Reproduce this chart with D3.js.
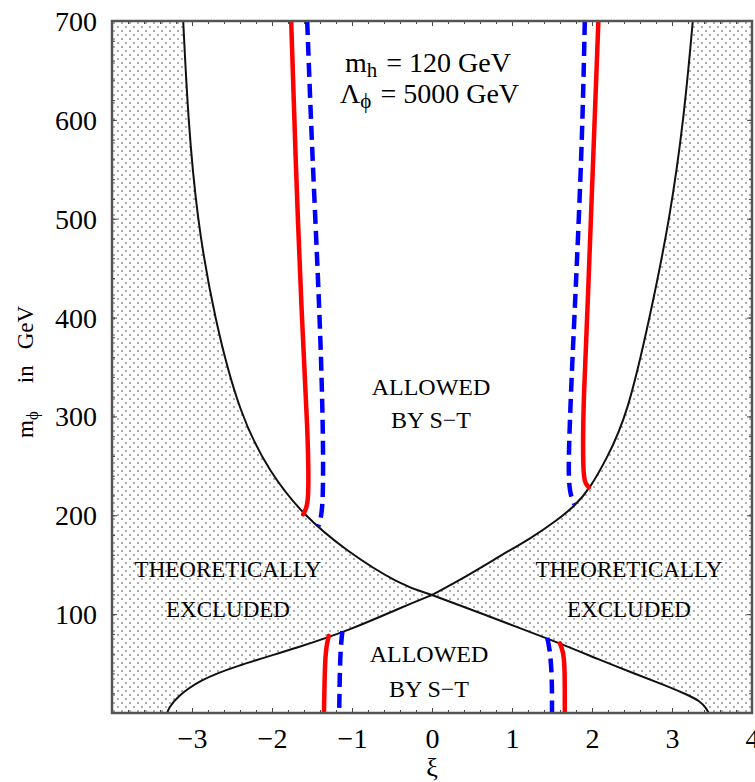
<!DOCTYPE html>
<html><head><meta charset="utf-8">
<script src="https://cdn.jsdelivr.net/npm/d3@7"></script>
<style>body{margin:0;background:#fff} svg{display:block} text{font-family:"Liberation Serif","DejaVu Serif",serif;fill:#000}</style>
</head><body><svg id="c" width="755" height="782"></svg>
<script>
// ---- data (xi, m_phi in GeV) ----
const curveA = [[-3.11,700],[-3.05,602],[-2.94,501],[-2.725,400.6],[-2.40,300.4],[-2.025,242.8],[-1.61,200.3],[-1.09,164.9],[-0.40,129.5],[0,119.4],[0.60,101.2],[1.56,71.8],[2.10,53.6],[2.51,40.5],[2.94,27.3],[3.20,18.2],[3.35,12.1],[3.425,5.1],[3.46,0]];
const curveB = [[3.26,700],[3.15,602],[2.975,500.7],[2.725,400.6],[2.44,300.4],[2.175,255.9],[1.975,227.6],[1.80,210.4],[1.55,194.2],[1.26,178],[0.85,158.8],[0.44,138.6],[0,119.4],[-0.40,106.2],[-1.025,84],[-1.65,66.8],[-2.49,46.5],[-2.90,33.4],[-3.19,16.2],[-3.29,5],[-3.31,0]];
const redLeftUpper  = [[-1.76,700],[-1.71,570],[-1.63,400],[-1.55,283],[-1.54,218],[-1.57,207],[-1.61,201]];
const blueLeftUpper = [[-1.56,700],[-1.50,570],[-1.40,400],[-1.36,283],[-1.36,215],[-1.39,196],[-1.42,189]];
const redRightUpper = [[2.08,700],[2.01,552],[1.95,417],[1.89,316],[1.885,240],[1.92,232],[1.96,228]];
const blueRightUpper= [[1.91,700],[1.88,587],[1.81,451],[1.75,350],[1.70,249],[1.72,222],[1.78,211]];
const redLeftLower  = [[-1.29,78],[-1.32,68],[-1.34,50],[-1.35,0]];
const blueLeftLower = [[-1.12,83],[-1.15,60],[-1.16,0]];
const redRightLower = [[1.60,70.5],[1.64,62],[1.66,47],[1.66,0]];
const blueRightLower= [[1.44,76],[1.47,66],[1.50,40],[1.50,0]];
const xTickLabels = [-3,-2,-1,0,1,2,3,4];
const yTickLabels = [100,200,300,400,500,600,700];
const xMinorTicks = d3.range(-40,41,2).map(v=>v/10);
const yMinorTicks = d3.range(0,701,20);

// ---- setup ----
const svg = d3.select("#c");
const L=112,R=752,T=21,B=713;
const x = d3.scaleLinear().domain([-4,4]).range([L,R]);
const y = d3.scaleLinear().domain([0,700]).range([B,T]);
const line = d3.line().x(d=>x(d[0])).y(d=>y(d[1])).curve(d3.curveBasis);

const defs = svg.append("defs");
const pat = defs.append("pattern").attr("id","dots").attr("patternUnits","userSpaceOnUse")
  .attr("width",8).attr("height",8).attr("x",L).attr("y",T);
pat.append("rect").attr("width",8).attr("height",8).attr("fill","#fff");
pat.append("circle").attr("cx",2).attr("cy",2).attr("r",0.7).attr("fill","#222");
pat.append("circle").attr("cx",6).attr("cy",6).attr("r",0.7).attr("fill","#222");
defs.append("clipPath").attr("id","clip").append("rect")
  .attr("x",L).attr("y",T).attr("width",R-L).attr("height",B-T);

const g = svg.append("g").attr("clip-path","url(#clip)");
g.append("rect").attr("x",L).attr("y",T).attr("width",R-L).attr("height",B-T).attr("fill","url(#dots)");

const iA = curveA.findIndex(d=>d[0]===0), iB = curveB.findIndex(d=>d[0]===0);
const Aup = curveA.slice(0,iA+1), Alow = curveA.slice(iA);
const Bup = curveB.slice(0,iB+1), Blow = curveB.slice(iB);
const upperPath = line(Aup) + line(Bup.slice().reverse()).replace(/^M/,"L") + "Z";
const lowerPath = line(Blow) + line(Alow.slice().reverse()).replace(/^M/,"L") + "Z";
g.append("path").attr("d",upperPath).attr("fill","#fff");
g.append("path").attr("d",lowerPath).attr("fill","#fff");

[Aup,Alow,Bup,Blow].forEach(c=>g.append("path").attr("d",line(c)).attr("fill","none")
  .attr("stroke","#111").attr("stroke-width",2));

[redLeftUpper,redRightUpper,redLeftLower,redRightLower].forEach(c=>g.append("path").attr("d",line(c))
  .attr("fill","none").attr("stroke","#ff0000").attr("stroke-width",4.5).attr("stroke-linecap","round"));
[blueLeftUpper,blueRightUpper,blueLeftLower,blueRightLower].forEach(c=>g.append("path").attr("d",line(c))
  .attr("fill","none").attr("stroke","#0000ff").attr("stroke-width",4.5).attr("stroke-dasharray","14,7"));

// ---- texts ----
function txt(s,xx,yy,size,anchor){return svg.append("text").attr("x",xx).attr("y",yy)
  .attr("font-size",size).attr("text-anchor",anchor||"middle").text(s);}
txt("ALLOWED",431,395,24); txt("BY S\u2212T",431,428,24);
txt("ALLOWED",429,662,24); txt("BY S\u2212T",429,697,24);
txt("THEORETICALLY",228,577,23); txt("EXCLUDED",228,617,23);
txt("THEORETICALLY",629,577,23); txt("EXCLUDED",629,617,23);

const t1 = svg.append("text").attr("x",345).attr("y",72).attr("font-size",28);
t1.append("tspan").text("m");
t1.append("tspan").attr("font-size",21).attr("dy",5).text("h");
t1.append("tspan").attr("dy",-5).attr("dx",2).text(" = 120 GeV");
const t2 = svg.append("text").attr("x",340).attr("y",103).attr("font-size",28);
t2.append("tspan").text("\u039B");
t2.append("tspan").attr("font-size",21).attr("dy",5).text("\u03D5");
t2.append("tspan").attr("dy",-5).attr("dx",2).text(" = 5000 GeV");

// y label
const yl = svg.append("text").attr("transform","translate(33,438) rotate(-90)").attr("font-size",23);
yl.append("tspan").text("m");
yl.append("tspan").attr("font-size",17).attr("dy",5).text("\u03D5");
yl.append("tspan").attr("dy",-5).attr("dx",28).text("in");
yl.append("tspan").attr("dx",16).text("GeV");
txt("\u03BE",432,776,26);

// ---- axes ----
const axG = svg.append("g");
axG.append("g").attr("transform",`translate(0,${B})`).call(d3.axisBottom(x).tickValues(xMinorTicks).tickSize(-3).tickFormat(""));
axG.append("g").attr("transform",`translate(0,${T})`).call(d3.axisTop(x).tickValues(xMinorTicks).tickSize(-3).tickFormat(""));
axG.append("g").attr("transform",`translate(${L},0)`).call(d3.axisLeft(y).tickValues(yMinorTicks).tickSize(-3).tickFormat(""));
axG.append("g").attr("transform",`translate(${R},0)`).call(d3.axisRight(y).tickValues(yMinorTicks).tickSize(-3).tickFormat(""));
const bx = axG.append("g").attr("transform",`translate(0,${B})`).call(d3.axisBottom(x).tickValues(xTickLabels).tickSize(-5)
  .tickFormat(d=>d<0?"\u2212"+Math.abs(d):String(d)));
axG.append("g").attr("transform",`translate(0,${T})`).call(d3.axisTop(x).tickValues(xTickLabels).tickSize(-5).tickFormat(""));
const ly = axG.append("g").attr("transform",`translate(${L},0)`).call(d3.axisLeft(y).tickValues(yTickLabels).tickSize(-5));
axG.append("g").attr("transform",`translate(${R},0)`).call(d3.axisRight(y).tickValues(yTickLabels).tickSize(-5).tickFormat(""));
axG.selectAll(".domain").remove();
axG.selectAll(".tick line").attr("stroke","#444").attr("stroke-width",1);
bx.selectAll("text").attr("font-family",null).attr("font-size",28).attr("fill","#000").attr("y",35).attr("dy",null);
ly.selectAll("text").attr("font-family",null).attr("font-size",28).attr("fill","#000").attr("x",-15).attr("dy","0.34em");

svg.append("rect").attr("x",L).attr("y",T).attr("width",R-L).attr("height",B-T)
  .attr("fill","none").attr("stroke","#555").attr("stroke-width",2.5);
</script></body></html>
